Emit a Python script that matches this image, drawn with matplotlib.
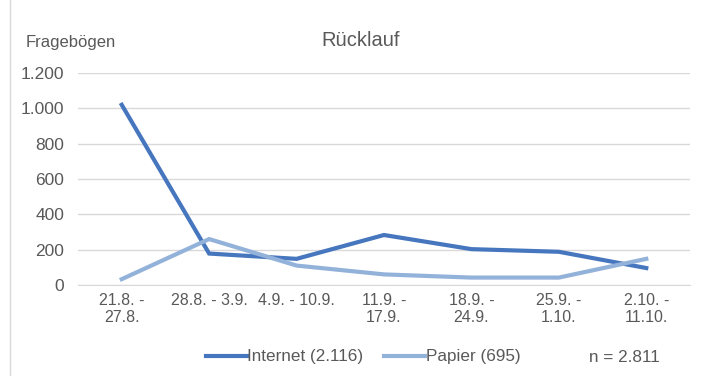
import numpy as np
import matplotlib.pyplot as plt
from matplotlib.patches import Rectangle

plt.rcParams['font.family'] = ['Liberation Sans', 'DejaVu Sans']

weeks = ['21.8. -\n27.8.', '28.8. - 3.9.', '4.9. - 10.9.', '11.9. -\n17.9.',
         '18.9. -\n24.9.', '25.9. -\n1.10.', '2.10. -\n11.10.']
internet = [1020, 178, 148, 283, 203, 188, 96]
papier = [33, 260, 110, 60, 42, 42, 148]

c_internet = '#4676BE'
c_papier = '#93B2DA'
grey = '#595959'

fig = plt.figure(figsize=(7.06, 3.76), dpi=100)
ax = fig.add_axes([78 / 706, 1 - 285 / 376, 612 / 706, 212 / 376])

x = np.arange(len(weeks))
l1, = ax.plot(x, internet, color=c_internet, lw=3, solid_joinstyle='miter')
l2, = ax.plot(x, papier, color=c_papier, lw=3, solid_joinstyle='miter')

ax.set_xlim(-0.5, len(weeks) - 0.5)
ax.set_ylim(0, 1200)
ax.set_yticks(range(0, 1201, 200))
ax.set_yticklabels(['0', '200', '400', '600', '800', '1.000', '1.200'])
ax.set_xticks(x)
ax.set_xticklabels(weeks, linespacing=1.1)
ax.grid(axis='y', color='#D9D9D9', lw=1)
ax.set_axisbelow(True)
for s in ['top', 'right', 'left']:
    ax.spines[s].set_visible(False)
ax.spines['bottom'].set_color('#D9D9D9')
ax.tick_params(length=0, labelcolor=grey)
ax.tick_params(axis='x', labelsize=11.5, pad=6)
ax.tick_params(axis='y', labelsize=12.5, pad=10)

fig.text(26 / 706, 1 - 42 / 376, 'Fragebögen', fontsize=12, color=grey, va='center')
fig.text(361 / 706, 1 - 41 / 376, 'Rücklauf', fontsize=14.5, color=grey,
         va='center', ha='center')

fig.legend([l1, l2], ['Internet (2.116)', 'Papier (695)'], loc='center',
           bbox_to_anchor=(363 / 706, 1 - 357 / 376), ncol=2, frameon=False,
           fontsize=12.3, labelcolor=grey, handlelength=2.4, handletextpad=0.05,
           columnspacing=1.2)
fig.text(624 / 706, 1 - 357 / 376, 'n = 2.811', fontsize=12.3, color=grey,
         ha='center', va='center')

# light frame round the whole chart
fig.add_artist(Rectangle((10 / 706, -0.02), 1.1, 1.1, transform=fig.transFigure,
                         fill=False, ec='#D9D9D9', lw=1))

fig.savefig('out.png', dpi=100)
